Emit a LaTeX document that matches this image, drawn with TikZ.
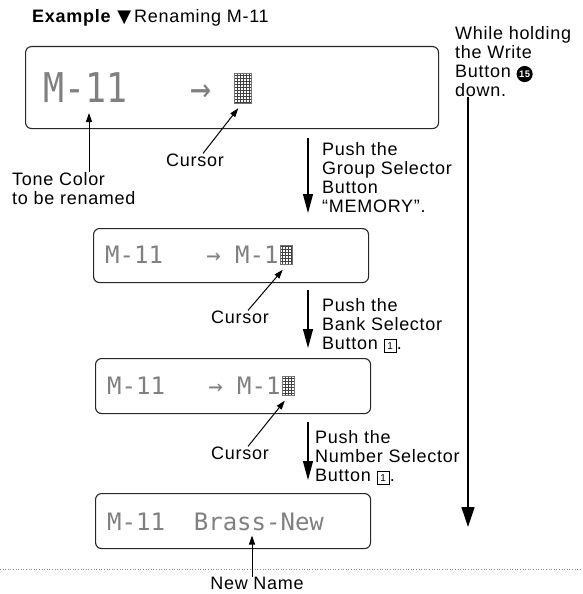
\documentclass[tikz,border=0pt]{standalone}
\usepackage{fontspec}
\setmainfont{Liberation Sans}[LetterSpace=4]
\newfontfamily\lcdbig{DejaVu Sans Mono}[FakeStretch=0.85]
\newfontfamily\lcdsmall{DejaVu Sans Mono}
\newfontfamily\symfont{DejaVu Sans}
\usetikzlibrary{arrows.meta,positioning,patterns}

\newcommand{\blacknum}[1]{\tikz[baseline=(bn.base)]\node[circle, fill=black, text=white,
  inner sep=1.2pt, font=\fontsize{9.5}{9.5}\selectfont\bfseries] (bn) {#1};}
\newcommand{\keycap}[1]{\tikz[baseline=(kc.base)]\node[draw, line width=0.7pt, inner sep=0pt,
  minimum size=12.5pt, font=\fontsize{10}{10}\selectfont] (kc) {#1};}

\begin{document}
\begin{tikzpicture}[x=1pt, y=-1pt]

\tikzset{
  txt/.style       = {font=\fontsize{18}{19}\selectfont, inner sep=0pt, align=left},
  lcdframe/.style  = {draw=black!85, line width=1.1pt, rounded corners=6pt, inner sep=0pt, anchor=north west},
  lcdtxt/.style    = {font=\lcdsmall\fontsize{24}{24}\selectfont, text=black!50, inner sep=0pt, anchor=west},
  lcdbigtxt/.style = {font=\lcdbig\fontsize{41}{41}\selectfont, text=black!50, inner sep=0pt, anchor=west},
  curblock/.style  = {pattern=grid, pattern color=black!75, draw=black!55, inner sep=0pt,
                      minimum width=12pt, minimum height=19pt},
  ptr/.style       = {-{Triangle[length=9pt,width=6pt]}, line width=1pt},
  stepline/.style  = {-{Triangle[length=19pt,width=10pt]}, line width=1.2pt},
}

\useasboundingbox (0,0) rectangle (582,594);

%% ---------- heading ----------
\node[txt, anchor=west] (title) at (32,18)
  {\textbf{Example}\hspace{6pt}{\symfont ▼}\hspace{3pt}Renaming M-11};

\node[txt, anchor=north west] (hold) at (455,26)
  {While holding\\the Write\\Button \blacknum{15}\\down.};

\coordinate (holdtop) at (468,97);
\coordinate (holdbot) at (468,527);
\draw[-{Triangle[length=20pt,width=13pt]}, line width=1.3pt] (holdtop) -- (holdbot);

%% ---------- first display ----------
\node[lcdframe, minimum width=413pt, minimum height=82pt] (box1) at (25,46) {};
\node[lcdbigtxt] (lcd1) at (43,88) {M-11~~~→};
\node[curblock, minimum width=17pt, minimum height=30pt] (cur1) at (243,88) {};

\node[txt, anchor=north west] (tone) at (12,172) {Tone Color\\to be renamed};
\draw[ptr] (tone.north -| 89,0) -- (89,113);

\node[txt] (curlbl1) at (195,160) {Cursor};
\draw[ptr] ([xshift=8pt]curlbl1.north) -- ([xshift=4pt,yshift=-5pt]cur1.south west);

%% ---------- step 1 ----------
\coordinate (s1top) at (308,138);
\coordinate (s1bot) at (308,213);
\draw[stepline] (s1top) -- (s1bot);
\node[txt, anchor=north west] (step1) at (322,142)
  {Push the\\Group Selector\\Button\\“MEMORY”.};

%% ---------- second display ----------
\node[lcdframe, minimum width=275pt, minimum height=54pt] (box2) at (93,228) {};
\node[lcdtxt] (lcd2) at (105,255) {M-11~~~→~M-1};
\node[curblock] (cur2) at (286,255) {};

\node[txt] (curlbl2) at (240,317) {Cursor};
\draw[ptr] ([xshift=8pt]curlbl2.north) -- ([xshift=3pt,yshift=-5pt]cur2.south west);

%% ---------- step 2 ----------
\coordinate (s2top) at (308,290);
\coordinate (s2bot) at (308,348);
\draw[stepline] (s2top) -- (s2bot);
\node[txt, anchor=north west] (step2) at (322,298)
  {Push the\\Bank Selector\\Button \keycap{1}.};

%% ---------- third display ----------
\node[lcdframe, minimum width=275pt, minimum height=55pt] (box3) at (95,358) {};
\node[lcdtxt] (lcd3) at (107,386) {M-11~~~→~M-1};
\node[curblock] (cur3) at (288,386) {};

\node[txt] (curlbl3) at (240,453) {Cursor};
\draw[ptr] ([xshift=8pt]curlbl3.north) -- ([xshift=3pt,yshift=-5pt]cur3.south west);

%% ---------- step 3 ----------
\coordinate (s3top) at (308,422);
\coordinate (s3bot) at (308,480);
\draw[stepline] (s3top) -- (s3bot);
\node[txt, anchor=north west] (step3) at (315,430)
  {Push the\\Number Selector\\Button \keycap{1}.};

%% ---------- result ----------
\node[lcdframe, minimum width=275pt, minimum height=55pt] (box4) at (95,493) {};
\node[lcdtxt] (lcd4) at (107,522) {M-11~~Brass-New};

\draw[black!45, dotted, line width=0.6pt] (0,569) -- (582,569);

\node[txt] (newname) at (257,583) {New Name};
\draw[ptr] ([xshift=-5pt]newname.north) -- ++(0,-41);

\end{tikzpicture}
\end{document}
